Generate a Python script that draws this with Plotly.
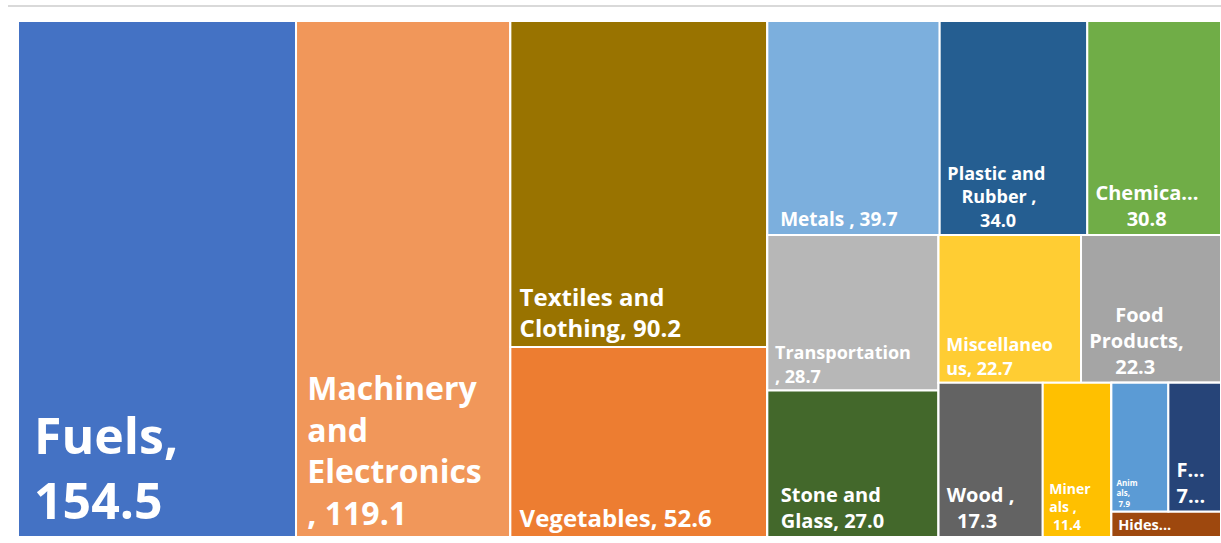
import plotly.graph_objects as go

# ---- data ----
categories = ["Fuels", "Machinery and Electronics", "Textiles and Clothing", "Vegetables",
              "Metals", "Plastic and Rubber", "Chemicals", "Transportation", "Stone and Glass",
              "Miscellaneous", "Food Products", "Wood", "Minerals", "Animals", "Footwear",
              "Hides and Skins"]
values = [154.5, 119.1, 90.2, 52.6, 39.7, 34.0, 30.8, 28.7, 27.0, 22.7, 22.3, 17.3, 11.4, 7.9, 7.3, 3.0]
display_lines = [["Fuels,", "154.5"], ["Machinery", "and", "Electronics", ", 119.1"],
                 ["Textiles and", "Clothing, 90.2"], ["Vegetables, 52.6"], ["Metals , 39.7"],
                 ["Plastic and", "Rubber ,", "34.0"], ["Chemica...", "30.8"], ["Transportation", ", 28.7"],
                 ["Stone and", "Glass, 27.0"], ["Miscellaneo", "us, 22.7"], ["Food", "Products,", "22.3"],
                 ["Wood ,", "17.3"], ["Miner", "als ,", "11.4"], ["Anim", "als,", "7.9"], ["F...", "7..."],
                 ["Hides..."]]
colors = ["#4472C4", "#F1975A", "#997300", "#ED7D31", "#7CAFDD", "#255E91", "#70AD47",
          "#B7B7B7", "#43682B", "#FFCD33", "#A5A5A5", "#636363", "#FFC000", "#5B9BD5",
          "#264478", "#9E480E"]
font_sizes = [50, 32, 24, 24, 19, 18, 20, 18, 20, 18, 20, 20, 14, 8, 20, 18]
centered = {"Plastic and Rubber", "Chemicals", "Food Products", "Wood", "Minerals", "Animals"}
block_indent = [1, 1, 1, 1, 2, 1, 1, 1, 2, 1, 1, 1, 1, 1, 1, 1]

NB = "\u00a0"


def make_label(i):
    lines = display_lines[i]
    longest = max(len(s) for s in lines)
    out = []
    for s in lines:
        extra = (longest - len(s)) if categories[i] in centered else 0
        out.append(NB * (block_indent[i] + extra) + s)
    return "<br>".join(out)


# ---- invisible grouping that reproduces the Excel tile arrangement ----
structure = [
    ("root", ""),
    (0, "root"), (1, "root"),
    ("g_tv", "root"), (2, "g_tv"), (3, "g_tv"),
    ("g_rest", "root"),
    ("g_r1", "g_rest"), (4, "g_r1"), (5, "g_r1"), (6, "g_r1"),
    ("g_r2", "g_rest"),
    ("g_c1", "g_r2"), (7, "g_c1"), (8, "g_c1"),
    ("g_c2", "g_r2"),
    ("g_c2a", "g_c2"), (9, "g_c2a"), (10, "g_c2a"),
    ("g_c2b", "g_c2"), (11, "g_c2b"), (12, "g_c2b"),
    ("g_c3", "g_c2b"), ("g_c4", "g_c3"), (13, "g_c4"), (14, "g_c4"), (15, "g_c3"),
]

ids, parents, labels, vals, texts, cols, sizes = [], [], [], [], [], [], []
for node, par in structure:
    if isinstance(node, int):
        ids.append(categories[node]); labels.append(categories[node])
        vals.append(values[node]); texts.append(make_label(node))
        cols.append(colors[node]); sizes.append(font_sizes[node])
    else:
        ids.append(node); labels.append(node); vals.append(0); texts.append("")
        cols.append("white"); sizes.append(10)
    parents.append(par)

fig = go.Figure(go.Treemap(
    ids=ids,
    labels=labels,
    parents=parents,
    values=vals,
    branchvalues="remainder",
    text=texts,
    textinfo="text",
    textposition="bottom left",
    textfont=dict(family="Open Sans", color="white", size=sizes, weight="bold"),
    marker=dict(colors=cols, line=dict(color="white", width=2),
                pad=dict(t=0, l=0, r=0, b=0)),
    tiling=dict(packing="slice-dice", pad=0),
    pathbar=dict(visible=False),
    sort=False,
    hoverinfo="label+value",
))

fig.update_layout(
    width=1221, height=543,
    margin=dict(l=18, r=0, t=21, b=6),
    paper_bgcolor="white",
    shapes=[dict(type="line", xref="paper", yref="paper", x0=-0.0083, x1=1.0, y0=1.029, y1=1.029,
                 line=dict(color="#D9D9D9", width=2))],
)

fig.write_html("out.html", config={"displayModeBar": False},
               post_script="document.body.style.margin='0px';")
